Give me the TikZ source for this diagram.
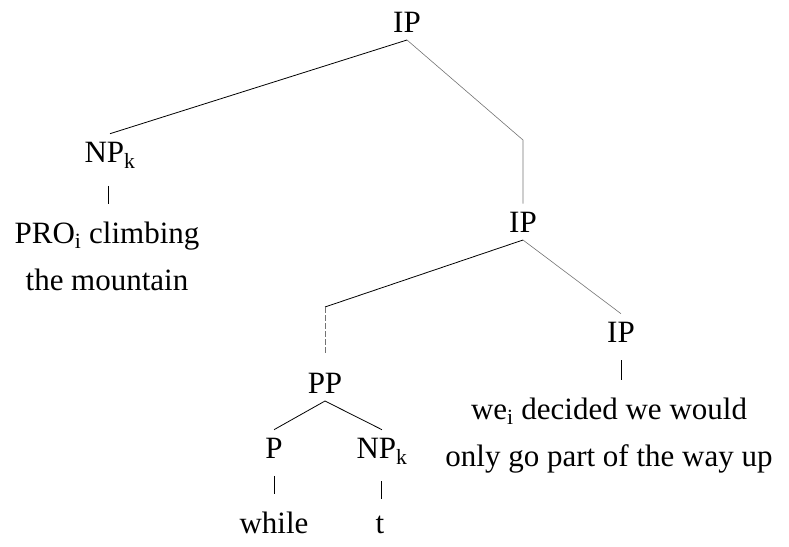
\documentclass[tikz,border=0pt]{standalone}
\usepackage{fontspec}
\setmainfont{Liberation Serif}
\usetikzlibrary{calc}

% short stroke half way between a node and the words under it
\newcommand{\vtick}[2]{\draw[tick] ($(#1.south)!.5!(#2.north)$) ++(0,-9) -- ++(0,18);}

\begin{document}
\begin{tikzpicture}[x=1pt, y=-1pt,
    cat/.style = {font=\fontsize{31}{47}\selectfont, inner sep=0pt, outer ysep=8pt, anchor=base},
    words/.style = {cat, align=center},
    branch/.style = {line width=0.8pt},
    faint/.style = {line width=0.6pt, black!55},
    tick/.style = {line width=0.9pt}]
      \useasboundingbox (0,0) rectangle (789,546);

      \node[cat] (ip1) at (407,32) {IP};
      \node[cat] (npk1) at (110,162) {NP\textsubscript{k}};
      \node[words] (pro) at (107,290) {PRO\textsubscript{i} climbing\\the mountain};
      \node[cat] (ip2) at (523,232) {IP};
      \node[cat] (pp) at (325,393) {PP};
      \node[cat] (ip3) at (621,342) {IP};
      \node[words] (we) at (609,466) {we\textsubscript{i} decided we would\\only go part of the way up};
      \node[cat] (p) at (274,458) {P};
      \node[cat] (npk2) at (382,458) {NP\textsubscript{k}};
      \node[cat] (while) at (274,533) {while};
      \node[cat] (t) at (380,533) {t};

      \coordinate (bend1) at (523,140);
      \coordinate (bend2) at (325,307);

      \draw[branch] (ip1.south) -- (npk1.north);
      \draw[faint] (ip1.south) -- (bend1) -- (ip2.north);
      \draw[branch] (ip2.south) -- (bend2);
      \draw[faint, dashed, dash pattern=on 6pt off 2pt, shorten >=12pt] (bend2) -- (pp.north);
      \draw[faint] (ip2.south) -- (ip3.north);
      \draw[branch] (pp.south) -- (p.north);
      \draw[branch] (pp.south) -- (npk2.north);

      \vtick{npk1}{pro}
      \draw[tick] (ip3.south) ++(0,10) -- ++(0,20);
      \vtick{p}{while}
      \vtick{npk2}{t}
\end{tikzpicture}
\end{document}
